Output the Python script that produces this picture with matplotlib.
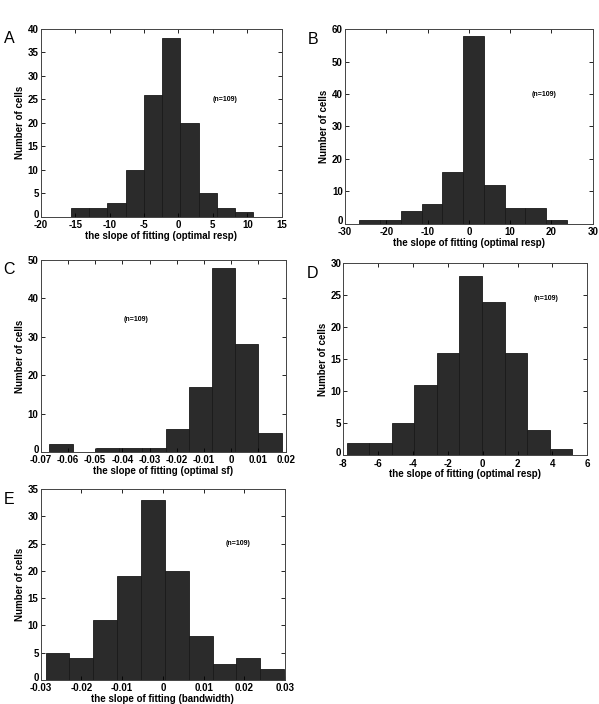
import numpy as np
import matplotlib
matplotlib.use('Agg')
import matplotlib.pyplot as plt
from matplotlib.transforms import ScaledTranslation

# histogram counts per panel (10 bins each, MATLAB hist style)
counts_a = [2, 2, 3, 10, 26, 38, 20, 5, 2, 1]
counts_b = [1, 1, 4, 6, 16, 58, 12, 5, 5, 1]
counts_c = [2, 0, 1, 1, 1, 6, 17, 48, 28, 5]
counts_d = [2, 2, 5, 11, 16, 28, 24, 16, 4, 1]
counts_e = [5, 4, 11, 19, 33, 20, 8, 3, 4, 2]

# data range covered by the bins (min, max of the slopes)
range_a = (-15.6, 10.9)
range_b = (-26.5, 23.7)
range_c = (-0.0668, 0.0185)
range_d = (-7.81, 5.14)
range_e = (-0.0288, 0.0298)

xlabels = ['the slope of fitting (optimal resp)',
           'the slope of fitting (optimal resp)',
           'the slope of fitting (optimal sf)',
           'the slope of fitting (optimal resp)',
           'the slope of fitting (bandwidth)']
letters = ['A', 'B', 'C', 'D', 'E']

xticks_a = [-20, -15, -10, -5, 0, 5, 10, 15]
xticks_b = [-30, -20, -10, 0, 10, 20, 30]
xticks_c = [-0.07, -0.06, -0.05, -0.04, -0.03, -0.02, -0.01, 0, 0.01, 0.02]
xticks_d = [-8, -6, -4, -2, 0, 2, 4, 6]
xticks_e = [-0.03, -0.02, -0.01, 0, 0.01, 0.02, 0.03]
xticklabels_c = ['-0.07', '-0.06', '-0.05', '-0.04', '-0.03', '-0.02', '-0.01', '0', '0.01', '0.02']
xticklabels_e = ['-0.03', '-0.02', '-0.01', '0', '0.01', '0.02', '0.03']

yticks_a = [0, 5, 10, 15, 20, 25, 30, 35, 40]
yticks_b = [0, 10, 20, 30, 40, 50, 60]
yticks_c = [0, 10, 20, 30, 40, 50]
yticks_d = [0, 5, 10, 15, 20, 25, 30]
yticks_e = [0, 5, 10, 15, 20, 25, 30, 35]

# where the "(n=109)" note sits, in data coords
note_a = (6.8, 25)
note_b = (18.2, 40)
note_c = (-0.035, 34.5)
note_d = (3.66, 24.5)
note_e = (0.0184, 25)

plt.rcParams['font.family'] = ['Liberation Sans', 'DejaVu Sans']
plt.rcParams['axes.unicode_minus'] = False

fig = plt.figure(figsize=(5.99, 7.04), dpi=100)
W, H = 599.0, 704.0

# axes boxes in pixels: left, top, right, bottom
boxes = [(40.7, 28.7, 281.7, 217.0),
         (345.0, 29.3, 592.7, 223.7),
         (40.7, 260.0, 285.7, 452.0),
         (343.3, 263.3, 587.3, 455.3),
         (40.7, 489.0, 285.0, 680.0)]

panels = [
    (counts_a, range_a, xticks_a, None, yticks_a, note_a),
    (counts_b, range_b, xticks_b, None, yticks_b, note_b),
    (counts_c, range_c, xticks_c, xticklabels_c, yticks_c, note_c),
    (counts_d, range_d, xticks_d, None, yticks_d, note_d),
    (counts_e, range_e, xticks_e, xticklabels_e, yticks_e, note_e),
]

for i, (counts, rng, xt, xtl, yt, note) in enumerate(panels):
    l, t, r, b = boxes[i]
    ax = fig.add_axes([l / W, 1 - b / H, (r - l) / W, (b - t) / H])
    edges = np.linspace(rng[0], rng[1], len(counts) + 1)
    ax.bar(edges[:-1], counts, width=np.diff(edges), align='edge',
           color='#2b2b2b', edgecolor='#1a1a1a', linewidth=0.6)
    ax.set_xlim(xt[0], xt[-1])
    ax.set_ylim(yt[0], yt[-1])
    ax.set_xticks(xt)
    if xtl is not None:
        ax.set_xticklabels(xtl)
    else:
        ax.set_xticklabels([str(v) for v in xt])
    ax.set_yticks(yt)
    ax.tick_params(direction='in', top=True, right=True, length=3,
                   width=0.6, labelsize=7)
    ax.tick_params(axis='x', pad=2.5)
    ax.tick_params(axis='y', pad=1.5)
    for lab in ax.get_xticklabels() + ax.get_yticklabels():
        lab.set_fontweight('bold')
    # nudge the "0" on the y axis up a little so it clears the first x label
    zero = ax.get_yticklabels()[0]
    zero.set_transform(zero.get_transform() + ScaledTranslation(0, 2.5 / 72, fig.dpi_scale_trans))
    for s in ax.spines.values():
        s.set_linewidth(0.7)
        s.set_color('#444444')
    ax.set_xlabel(xlabels[i], fontsize=7, fontweight='bold', labelpad=0.5)
    ax.set_ylabel('Number of cells', fontsize=7, fontweight='bold', labelpad=2)
    ax.text(note[0], note[1], '(n=109)', fontsize=5, fontweight='bold',
            ha='center', va='center')
    fig.text((l - 37) / W, 1 - (t + 10) / H, letters[i], fontsize=11.5,
             ha='left', va='center')

fig.savefig('out.png', dpi=100)
